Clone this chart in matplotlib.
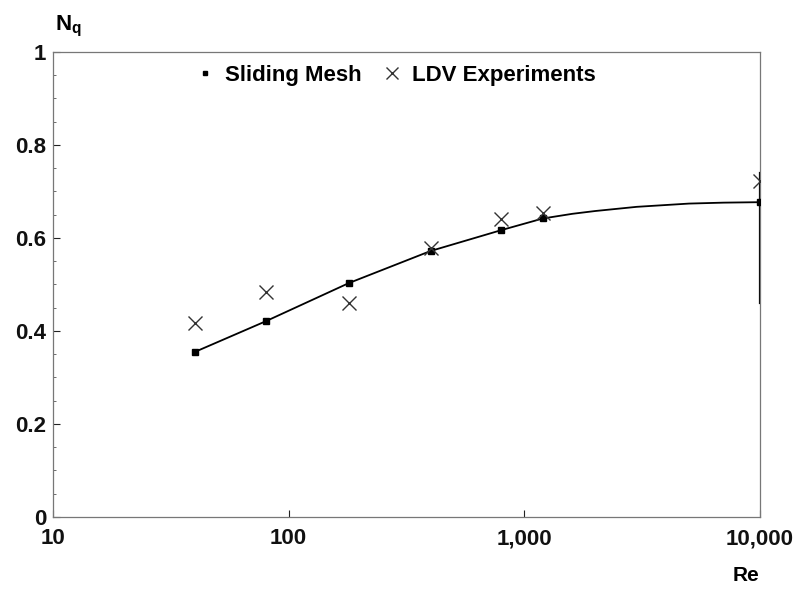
import numpy as np
import matplotlib
matplotlib.use('Agg')
import matplotlib.pyplot as plt
from matplotlib.ticker import FixedLocator, FixedFormatter, MultipleLocator

plt.rcParams['font.family'] = ['Liberation Sans', 'DejaVu Sans']

# 数据
re_sim = [40, 80, 180, 400, 800, 1200, 10000]
nq_sim = [0.355, 0.421, 0.503, 0.572, 0.617, 0.642, 0.677]
re_exp = [40, 80, 180, 400, 800, 1200, 10000]
nq_exp = [0.417, 0.483, 0.461, 0.578, 0.641, 0.654, 0.723]
# 拟合曲线
re_curve = [40, 80, 180, 400, 800, 1200, 1600, 2000, 3000, 5000, 7000, 10000]
nq_curve = [0.355, 0.421, 0.503, 0.572, 0.617, 0.642, 0.652, 0.658, 0.667, 0.674, 0.676, 0.677]
xticks = [10, 100, 1000, 10000]
xlabels = ['10', '100', '1,000', '10,000']
yticks = [0, 0.2, 0.4, 0.6, 0.8, 1]
ylabels = ['0', '0.2', '0.4', '0.6', '0.8', '1']

fig = plt.figure(figsize=(8.02, 5.92), dpi=100)
ax = fig.add_axes([0.0661, 0.1267, 0.8815, 0.7855])

ax.plot(re_curve, nq_curve, color='black', lw=1.3, zorder=2)
ax.plot(re_sim, nq_sim, ls='none', marker='s', ms=4, color='black', label='Sliding Mesh', zorder=3)
ax.plot(re_exp, nq_exp, ls='none', marker='x', ms=10, mew=1.0, color='#333333', label='LDV Experiments', zorder=3)
ax.axvline(10000, ymin=0.46, ymax=0.74, color='black', lw=1.6)

ax.set_xscale('log')
ax.set_xlim(10, 10000)
ax.set_ylim(0, 1)
ax.xaxis.set_major_locator(FixedLocator(xticks))
ax.xaxis.set_major_formatter(FixedFormatter(xlabels))
ax.xaxis.set_minor_locator(FixedLocator([]))
ax.yaxis.set_major_locator(FixedLocator(yticks))
ax.yaxis.set_major_formatter(FixedFormatter(ylabels))
ax.yaxis.set_minor_locator(MultipleLocator(0.05))
ax.tick_params(axis='both', which='major', direction='in', length=5, width=0.8, labelsize=16, colors='#222222')
ax.tick_params(axis='y', which='minor', direction='in', length=2.5, width=0.6, color='#555555')
ax.tick_params(axis='x', pad=8)
ax.tick_params(axis='y', pad=5)
for lab in ax.get_xticklabels() + ax.get_yticklabels():
    lab.set_fontweight('bold')
    lab.set_color('#111111')
for s in ax.spines.values():
    s.set_color('#777777')
    s.set_linewidth(0.9)

ax.text(0.003, 1.028, r'N$_\mathregular{q}$', transform=ax.transAxes, fontsize=16,
        fontweight='bold', ha='left', va='bottom')
ax.text(0.98, -0.125, 'Re', transform=ax.transAxes, fontsize=15, fontweight='bold',
        ha='center', va='center')

leg = ax.legend(loc='upper center', bbox_to_anchor=(0.485, 1.015), ncol=2, frameon=False,
                handlelength=0.8, handletextpad=0.5, columnspacing=1.0,
                prop={'weight': 'bold', 'size': 16})
leg.legend_handles[0].set_markersize(3)
leg.legend_handles[1].set_markersize(8)

fig.savefig('out.png', dpi=100)
